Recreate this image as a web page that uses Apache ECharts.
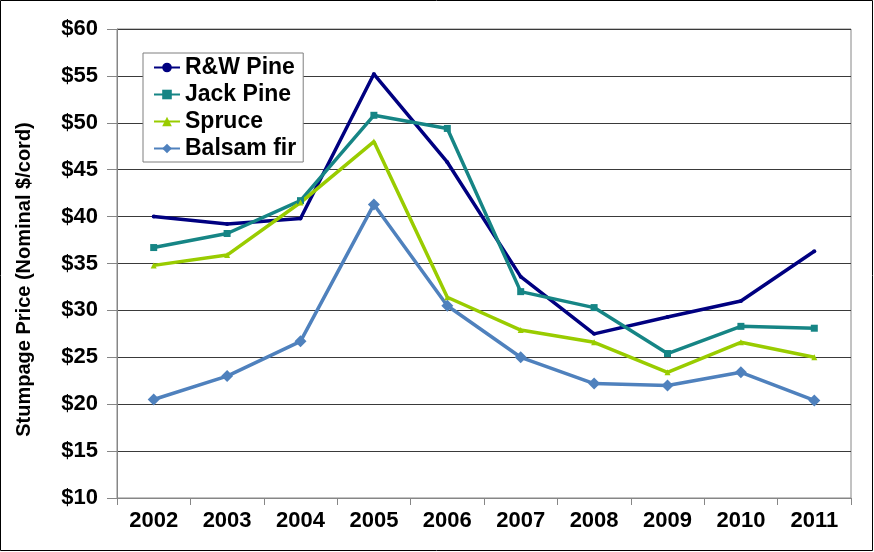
<!DOCTYPE html>
<html>
<head>
<meta charset="utf-8">
<script src="https://cdn.jsdelivr.net/npm/echarts@6/dist/echarts.min.js"></script>
<style>
html,body{margin:0;padding:0;background:#fff;}
#chart{width:874px;height:552px;}
</style>
</head>
<body>
<div id="chart"></div>
<script>
const years = ['2002','2003','2004','2005','2006','2007','2008','2009','2010','2011'];
const rwPine = [40.0, 39.2, 39.8, 55.2, 45.8, 33.6, 27.5, 29.3, 31.0, 36.3];
const jackPine = [36.7, 38.2, 41.7, 50.8, 49.4, 32.0, 30.3, 25.4, 28.3, 28.1];
const spruce = [34.8, 35.9, 41.5, 48.0, 31.4, 27.9, 26.6, 23.4, 26.6, 25.0];
const balsamFir = [20.5, 23.0, 26.7, 41.3, 30.5, 25.0, 22.2, 22.0, 23.4, 20.4];
const yTicks = {min: 10, max: 60, interval: 5};

const FONT = "'Liberation Sans', Arial, sans-serif";
const chart = echarts.init(document.getElementById('chart'), null, {renderer: 'canvas'});

function mk(name, data, color, symbol, size) {
  return {
    name, type: 'line', data,
    symbol, symbolSize: size, showSymbol: true,
    lineStyle: {color, width: 3.5},
    itemStyle: {color},
    emphasis: {disabled: true},
    animation: false
  };
}

chart.setOption({
  backgroundColor: '#fff',
  animation: false,
  graphic: [{
    type: 'rect', shape: {x: 0.5, y: 0.5, width: 872, height: 550},
    style: {fill: 'none', stroke: '#000', lineWidth: 1}, silent: true
  }],
  grid: {left: 117, right: 23, top: 29, bottom: 54, show: true, borderColor: '#868686', borderWidth: 1, backgroundColor: 'transparent'},
  legend: {
    orient: 'vertical', left: 143, top: 53,
    padding: [3, 7, 2, 10],
    borderColor: '#7f7f7f', borderWidth: 1, backgroundColor: '#fff',
    itemWidth: 26, itemHeight: 12, itemGap: 4,
    textStyle: {fontFamily: FONT, fontWeight: 'bold', fontSize: 23, lineHeight: 22, color: '#000'},
    data: ['R&W Pine', 'Jack Pine', 'Spruce', 'Balsam fir']
  },
  xAxis: {
    type: 'category', data: years, boundaryGap: true,
    axisLine: {lineStyle: {color: '#868686', width: 1}},
    axisTick: {show: true, length: 7, lineStyle: {color: '#868686'}},
    axisLabel: {fontFamily: FONT, fontWeight: 'bold', fontSize: 22, color: '#000', margin: 12},
    splitLine: {show: false}
  },
  yAxis: {
    type: 'value', min: yTicks.min, max: yTicks.max, interval: yTicks.interval,
    name: 'Stumpage Price (Nominal $/cord)',
    nameLocation: 'middle', nameRotate: 90, nameGap: 83,
    nameTextStyle: {fontFamily: FONT, fontWeight: 'bold', fontSize: 20, color: '#000', padding: [0, 32, 0, 0]},
    axisLine: {show: true, lineStyle: {color: '#868686', width: 1}},
    axisTick: {show: true, length: 10, lineStyle: {color: '#868686'}},
    axisLabel: {fontFamily: FONT, fontWeight: 'bold', fontSize: 22, color: '#000', margin: 19,
      formatter: v => '$' + v},
    splitLine: {show: true, lineStyle: {color: '#3a3a3a', width: 1}}
  },
  series: [
    mk('R&W Pine', rwPine, '#000080', 'circle', 4),
    mk('Jack Pine', jackPine, '#168585', 'rect', 7),
    mk('Spruce', spruce, '#99cc00', 'triangle', 6),
    mk('Balsam fir', balsamFir, '#4f81bd', 'diamond', 12)
  ]
});
</script>
</body>
</html>
